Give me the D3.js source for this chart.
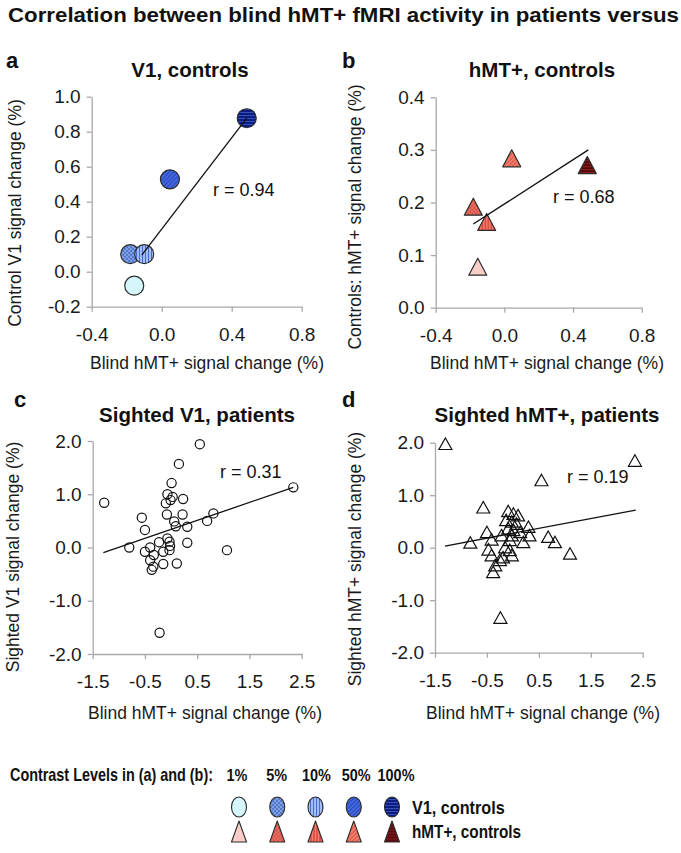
<!DOCTYPE html>
<html>
<head>
<meta charset="utf-8">
<script src="https://cdn.jsdelivr.net/npm/d3@7"></script>
<style>
  html, body { margin: 0; padding: 0; background: #fff; }
  svg { display: block; font-family: 'Liberation Sans', Arial, sans-serif; }
</style>
</head>
<body>
<div id="chart"></div>
<script>
// ── Data ──
const contrastLevels = ['1%', '5%', '10%', '50%', '100%'];

// (a) V1 controls vs blind hMT+
const v1CtrlX = [-0.157, -0.18, -0.10, 0.047, 0.486];
const v1CtrlY = [-0.08, 0.10, 0.10, 0.528, 0.877];
// (b) hMT+ controls vs blind hMT+
const mtCtrlX = [-0.155, -0.181, -0.103, 0.043, 0.483];
const mtCtrlY = [0.078, 0.192, 0.163, 0.284, 0.271];

// (c) sighted V1 in patients, [blind hMT+, sighted V1]
const sightedV1 = [
  [-1.28, 0.84], [0.55, 1.94], [0.15, 1.57], [2.34, 1.13], [-0.22, -1.60], [-0.80, 0.00],
  [0.01, 1.21], [-0.07, 1.00], [0.03, 0.95], [-0.01, 0.89], [-0.10, 0.83], [0.23, 0.91],
  [-0.56, 0.56], [-0.08, 0.62], [0.22, 0.62], [0.81, 0.64], [0.69, 0.50], [0.06, 0.49],
  [0.09, 0.40], [0.31, 0.39], [-0.50, 0.33], [-0.40, 0.00], [-0.23, 0.10], [-0.07, 0.17],
  [-0.03, 0.11], [-0.02, 0.03], [-0.03, -0.05], [0.31, 0.09], [-0.50, -0.08], [-0.33, -0.14],
  [-0.15, -0.08], [-0.40, -0.24], [-0.15, -0.31], [0.11, -0.30], [-0.34, -0.36], [-0.37, -0.42],
  [1.07, -0.05]
];
// (d) sighted hMT+ in patients, [blind hMT+, sighted hMT+]
const sightedMT = [
  [-1.30, 1.98], [2.35, 1.66], [0.55, 1.29], [-0.24, -1.33], [-0.82, 0.10],
  [-0.57, 0.77], [-0.09, 0.70], [0.01, 0.65], [0.10, 0.62], [-0.13, 0.53], [-0.02, 0.50],
  [0.07, 0.46], [0.30, 0.40], [-0.09, 0.37], [0.01, 0.34], [0.14, 0.30], [-0.50, 0.30],
  [-0.22, 0.24], [-0.02, 0.24], [0.32, 0.24], [-0.41, 0.16], [-0.06, 0.15], [0.20, 0.11],
  [0.68, 0.21], [0.81, 0.11], [-0.47, -0.03], [-0.15, 0.01], [-0.06, -0.04], [1.10, -0.11],
  [-0.41, -0.14], [-0.19, -0.18], [-0.02, -0.14], [-0.25, -0.23], [-0.34, -0.33], [-0.38, -0.46]
];

// fitted lines (visible end points)
const fitA = [[-0.114, 0.095], [0.486, 0.877]];
const fitB = [[-0.181, 0.159], [0.489, 0.300]];
const fitC = [[-1.296, -0.097], [2.34, 1.13]];
const fitD = [[-1.307, 0.032], [2.365, 0.717]];

const rValues = ['r = 0.94', 'r = 0.68', 'r = 0.31', 'r = 0.19'];

const ticksAB_x = [-0.4, 0.0, 0.4, 0.8];
const ticksA_y = [-0.2, 0.0, 0.2, 0.4, 0.6, 0.8, 1.0];
const ticksB_y = [0.0, 0.1, 0.2, 0.3, 0.4];
const ticksCD_x = [-1.5, -0.5, 0.5, 1.5, 2.5];
const ticksCD_y = [-2.0, -1.0, 0.0, 1.0, 2.0];

// styling per contrast level
const patternType = ['none', 'dots', 'vert', 'diag', 'horiz'];
const blueBg = ['#d5f6fa', '#7d9fe6', '#a2befa', '#4468dc', '#0b1c82'];
const blueFg = ['#d5f6fa', '#1f3f9a', '#3d60cc', '#2243b8', '#3a55b8'];
const redBg  = ['#f9cdc8', '#ef7466', '#f77a6d', '#e4604f', '#5a090b'];
const redFg  = ['#f9cdc8', '#9a1a1a', '#c22f28', '#f39585', '#8e2424'];

const W = 681, H = 853;
const font = "'Liberation Sans', Arial, sans-serif";
const fmt = d => d.toFixed(1);

const svg = d3.select('#chart').append('svg')
  .attr('width', W).attr('height', H);

const defs = svg.append('defs');

function addPattern(id, type, bg, fg) {
  if (type === 'none') return bg;
  const s = type === 'dots' ? 4 : 3;
  const p = defs.append('pattern')
    .attr('id', id)
    .attr('patternUnits', 'userSpaceOnUse')
    .attr('width', s).attr('height', s);
  if (type === 'diag') p.attr('patternTransform', 'rotate(45)');
  p.append('rect').attr('width', s).attr('height', s).attr('fill', bg);
  if (type === 'dots') {
    p.append('circle').attr('cx', 1).attr('cy', 1).attr('r', 0.75).attr('fill', fg);
    p.append('circle').attr('cx', 3).attr('cy', 3).attr('r', 0.75).attr('fill', fg);
  } else if (type === 'horiz') {
    p.append('line').attr('x1', 0).attr('x2', s).attr('y1', 1.5).attr('y2', 1.5)
      .attr('stroke', fg).attr('stroke-width', 0.9);
  } else {
    p.append('line').attr('x1', 1.5).attr('x2', 1.5).attr('y1', 0).attr('y2', s)
      .attr('stroke', fg).attr('stroke-width', 0.9);
  }
  return `url(#${id})`;
}

const blueFill = contrastLevels.map((c, i) => addPattern('b' + i, patternType[i], blueBg[i], blueFg[i]));
const redFill  = contrastLevels.map((c, i) => addPattern('r' + i, patternType[i], redBg[i], redFg[i]));

function triPath(w, h) {
  return `M0,${-h / 2}L${w / 2},${h / 2}L${-w / 2},${h / 2}Z`;
}

// bold legend text in a horizontally squeezed (narrow) look
function narrowText(parent, x, y, k, str, size, anchor) {
  return parent.append('g')
    .attr('transform', `translate(${x},${y}) scale(${k},1)`)
    .append('text')
    .attr('text-anchor', anchor || 'start')
    .attr('font-size', size).attr('font-weight', 'bold').attr('fill', '#111')
    .text(str);
}

// ── Main title ──
svg.append('text')
  .attr('x', 8).attr('y', 22)
  .attr('font-size', 21).attr('font-weight', 'bold').attr('fill', '#111')
  .attr('textLength', 671).attr('lengthAdjust', 'spacingAndGlyphs')
  .text('Correlation between blind hMT+ fMRI activity in patients versus');

// ── Panel helper ──
function drawPanel(cfg) {
  const g = svg.append('g');
  const x = d3.scaleLinear().domain(cfg.xDomain).range(cfg.xRange);
  const y = d3.scaleLinear().domain(cfg.yDomain).range(cfg.yRange);

  const xAxis = g.append('g')
    .attr('transform', `translate(0,${cfg.yRange[0]})`)
    .call(d3.axisBottom(x).tickValues(cfg.xTicks).tickSize(5).tickSizeOuter(0)
      .tickPadding(16).tickFormat(fmt));
  const yAxis = g.append('g')
    .attr('transform', `translate(${cfg.xRange[0]},0)`)
    .call(d3.axisLeft(y).tickValues(cfg.yTicks).tickSize(5).tickSizeOuter(0)
      .tickPadding(6).tickFormat(fmt));
  [xAxis, yAxis].forEach(a => {
    a.select('.domain').attr('stroke', '#a8a8a8').attr('stroke-width', 1.3);
    a.selectAll('.tick line').attr('stroke', '#a8a8a8').attr('stroke-width', 1.3);
    a.selectAll('.tick text').attr('fill', '#1a1a1a')
      .attr('font-family', font).attr('font-size', 19);
  });

  // markers
  cfg.marks(g, x, y);

  // fit line
  g.append('path')
    .datum(cfg.fit)
    .attr('fill', 'none').attr('stroke', '#111').attr('stroke-width', 1.3)
    .attr('d', d3.line().x(d => x(d[0])).y(d => y(d[1])));

  // r label
  g.append('text')
    .attr('x', cfg.rPos[0]).attr('y', cfg.rPos[1])
    .attr('font-size', 18).attr('fill', '#111')
    .text(cfg.rText);

  // panel letter + title
  g.append('text')
    .attr('x', cfg.letterPos[0]).attr('y', cfg.letterPos[1])
    .attr('font-size', 22).attr('font-weight', 'bold').attr('fill', '#111')
    .text(cfg.letter);
  g.append('text')
    .attr('x', cfg.titlePos[0]).attr('y', cfg.titlePos[1])
    .attr('text-anchor', 'middle')
    .attr('font-size', 20.5).attr('font-weight', 'bold').attr('fill', '#111')
    .text(cfg.title);

  // axis titles
  g.append('text')
    .attr('x', cfg.xTitlePos[0]).attr('y', cfg.xTitlePos[1])
    .attr('text-anchor', 'middle')
    .attr('font-size', 17.5).attr('fill', '#1a1a1a')
    .text('Blind hMT+ signal change (%)');
  g.append('text')
    .attr('transform', `translate(${cfg.yTitlePos[0]},${cfg.yTitlePos[1]}) rotate(-90)`)
    .attr('text-anchor', 'middle')
    .attr('font-size', 17.5).attr('fill', '#1a1a1a')
    .text(cfg.yTitle);
}

// ── (a) ──
drawPanel({
  xDomain: [-0.4, 0.8], xRange: [91.7, 301.7],
  yDomain: [-0.2, 1.0], yRange: [306.7, 96.7],
  xTicks: ticksAB_x, yTicks: ticksA_y,
  fit: fitA, rText: rValues[0], rPos: [213, 196],
  letter: 'a', letterPos: [6, 68],
  title: 'V1, controls', titlePos: [190, 77],
  xTitlePos: [207, 369], yTitle: 'Control V1 signal change (%)', yTitlePos: [21, 213],
  marks: (g, x, y) => {
    g.selectAll('.pt')
      .data(v1CtrlX.map((d, i) => ({ x: d, y: v1CtrlY[i], i })))
      .enter().append('circle')
      .attr('cx', d => x(d.x)).attr('cy', d => y(d.y)).attr('r', 9.5)
      .attr('fill', d => blueFill[d.i])
      .attr('stroke', '#2b2b2b').attr('stroke-width', 1.2);
  }
});

// ── (b) ──
drawPanel({
  xDomain: [-0.4, 0.8], xRange: [435.7, 641.7],
  yDomain: [0, 0.4], yRange: [307.7, 97.3],
  xTicks: ticksAB_x, yTicks: ticksB_y,
  fit: fitB, rText: rValues[1], rPos: [553, 203],
  letter: 'b', letterPos: [342, 68],
  title: 'hMT+, controls', titlePos: [542, 77],
  xTitlePos: [547, 369], yTitle: 'Controls: hMT+ signal change (%)', yTitlePos: [361, 217],
  marks: (g, x, y) => {
    g.selectAll('.pt')
      .data(mtCtrlX.map((d, i) => ({ x: d, y: mtCtrlY[i], i })))
      .enter().append('path')
      .attr('transform', d => `translate(${x(d.x)},${y(d.y)})`)
      .attr('d', triPath(18, 17))
      .attr('fill', d => redFill[d.i])
      .attr('stroke', '#2b2b2b').attr('stroke-width', 1.2).attr('stroke-linejoin', 'round');
  }
});

// ── (c) ──
drawPanel({
  xDomain: [-1.5, 2.5], xRange: [92.7, 301.7],
  yDomain: [-2, 2], yRange: [654, 441],
  xTicks: ticksCD_x, yTicks: ticksCD_y,
  fit: fitC, rText: rValues[2], rPos: [220, 478],
  letter: 'c', letterPos: [14, 407],
  title: 'Sighted V1, patients', titlePos: [197, 422],
  xTitlePos: [205, 719], yTitle: 'Sighted V1 signal change (%)', yTitlePos: [19, 557],
  marks: (g, x, y) => {
    g.selectAll('.pt')
      .data(sightedV1)
      .enter().append('circle')
      .attr('cx', d => x(d[0])).attr('cy', d => y(d[1])).attr('r', 4.6)
      .attr('fill', 'none')
      .attr('stroke', '#111').attr('stroke-width', 1.2);
  }
});

// ── (d) ──
drawPanel({
  xDomain: [-1.5, 2.5], xRange: [435, 642.7],
  yDomain: [-2, 2], yRange: [652.7, 442.7],
  xTicks: ticksCD_x, yTicks: ticksCD_y,
  fit: fitD, rText: rValues[3], rPos: [567, 483],
  letter: 'd', letterPos: [342, 407],
  title: 'Sighted hMT+, patients', titlePos: [547, 422],
  xTitlePos: [543, 719], yTitle: 'Sighted hMT+ signal change (%)', yTitlePos: [361, 559],
  marks: (g, x, y) => {
    g.selectAll('.pt')
      .data(sightedMT)
      .enter().append('path')
      .attr('transform', d => `translate(${x(d[0])},${y(d[1])})`)
      .attr('d', triPath(13, 11.5))
      .attr('fill', 'none')
      .attr('stroke', '#111').attr('stroke-width', 1.2).attr('stroke-linejoin', 'miter');
  }
});

// ── Legend ──
const legend = svg.append('g');
const lx = d3.scalePoint().domain(contrastLevels).range([239, 392]);
const lxLabel = d3.scalePoint().domain(contrastLevels).range([237, 396]);

narrowText(legend, 10, 781, 0.8, 'Contrast Levels in (a) and (b):', 18);
contrastLevels.forEach(c => narrowText(legend, lxLabel(c), 781, 0.85, c, 17, 'middle'));

legend.selectAll('.lc')
  .data(contrastLevels)
  .enter().append('ellipse')
  .attr('cx', d => lx(d)).attr('cy', 807)
  .attr('rx', 7.5).attr('ry', 10)
  .attr('fill', (d, i) => blueFill[i])
  .attr('stroke', '#2b2b2b').attr('stroke-width', 1.1);

legend.selectAll('.lt')
  .data(contrastLevels)
  .enter().append('path')
  .attr('transform', d => `translate(${lx(d)},831.5)`)
  .attr('d', triPath(15, 21))
  .attr('fill', (d, i) => redFill[i])
  .attr('stroke', '#2b2b2b').attr('stroke-width', 1.1).attr('stroke-linejoin', 'round');

narrowText(legend, 412, 814, 0.9, 'V1, controls', 18);
narrowText(legend, 412, 838, 0.85, 'hMT+, controls', 18);
</script>
</body>
</html>
